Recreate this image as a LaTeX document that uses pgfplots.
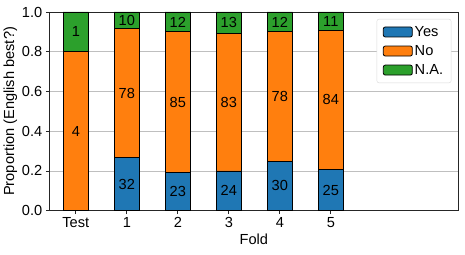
\documentclass[border=0pt]{standalone}
\usepackage{fontspec}
\setmainfont{Liberation Sans}
\usepackage{pgfplots}
\usepackage{pgfplotstable}
\pgfplotsset{compat=1.18}
\definecolor{tabblue}{HTML}{1F77B4}
\definecolor{taborange}{HTML}{FF7F0E}
\definecolor{tabgreen}{HTML}{2CA02C}

% proportions: yes, no, n.a. (counts: Test 0/4/1, folds of 120)
\pgfplotstableread{
x yes no na
0 0 0.8 0.2
1 0.26667 0.65 0.08333
2 0.19167 0.70833 0.1
3 0.2 0.69167 0.10833
4 0.25 0.65 0.1
5 0.20833 0.7 0.09167
6 0 0 0
7 0 0 0
}\datatable

\pgfplotstableread{
x y label
0 0.4 4
0 0.9 1
1 0.13333 32
1 0.59167 78
1 0.95833 10
2 0.09583 23
2 0.54583 85
2 0.95 12
3 0.1 24
3 0.54583 83
3 0.94583 13
4 0.125 30
4 0.575 78
4 0.95 12
5 0.10417 25
5 0.55833 84
5 0.95417 11
}\labeltable

\begin{document}
\begin{tikzpicture}
\pgfplotsset{mystyle/.style={scale only axis, width=409pt, height=198.7pt,
  xmin=-0.52, xmax=7.5, ymin=0, ymax=1,
  font=\fontsize{14.6}{17}\selectfont}}
\begin{axis}[mystyle, name=ax,
  ybar stacked, bar width=0.5,
  axis line style={line width=0.9pt, black!85},
  xtick={0,1,2,3,4,5}, xticklabels={Test,1,2,3,4,5},
  ytick={0,0.2,0.4,0.6,0.8,1.0},
  tick align=outside, major tick length=3.5pt,
  tick style={line width=0.8pt, black!85},
  xtick pos=bottom, ytick pos=left,
  /pgf/number format/assume math mode=true,
  yticklabel style={/pgf/number format/.cd, fixed, fixed zerofill, precision=1},
  ymajorgrids, grid style={line width=0.8pt, black!25},
  axis on top=false,
  xlabel={Fold}, ylabel={Proportion (English best?)},
  ylabel style={yshift=-2pt},
  xlabel style={yshift=1pt},
  legend style={at={(1,1)}, anchor=north east, xshift=-7pt, yshift=-7pt,
    draw=black!15, rounded corners=2pt, font=\fontsize{14.6}{17}\selectfont,
    row sep=3.5pt, inner xsep=6pt, inner ysep=5pt,
    /tikz/every even column/.append style={column sep=6pt}},
  legend cell align=left,
  legend image code/.code={\draw[#1, line width=0.8pt] (0pt,-5pt) rectangle (29pt,5pt);},
]
\addplot[fill=tabblue, draw=black, line width=0.8pt] table[x=x, y=yes] {\datatable};
\addlegendentry{Yes}
\addplot[fill=taborange, draw=black, line width=0.8pt] table[x=x, y=no] {\datatable};
\addlegendentry{No}
\addplot[fill=tabgreen, draw=black, line width=0.8pt] table[x=x, y=na] {\datatable};
\addlegendentry{N.A.}
\end{axis}
\begin{axis}[mystyle, hide axis]
\addplot[draw=none, mark=none, nodes near coords, point meta=explicit symbolic,
  nodes near coords style={anchor=center, font=\fontsize{14.6}{17}\selectfont, text=black}]
  table[x=x, y=y, meta=label] {\labeltable};
\end{axis}
\pgfresetboundingbox
\path (ax.south west) ++(-49.3pt,-43.3pt) rectangle ++(465pt,254pt);
\end{tikzpicture}
\end{document}
